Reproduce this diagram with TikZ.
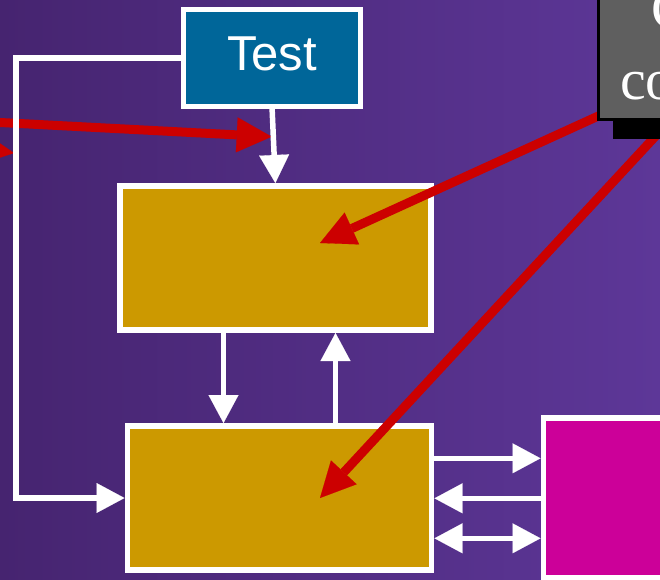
\documentclass[tikz,border=0pt]{standalone}
\usepackage{fontspec}
\setmainfont{Liberation Serif}
\newfontfamily\boxsans{Liberation Sans}
\usetikzlibrary{arrows.meta}
\definecolor{bgleft}{RGB}{70,36,112}
\definecolor{bgright}{RGB}{93,55,152}
\definecolor{gold}{RGB}{204,153,0}
\definecolor{testblue}{RGB}{0,102,153}
\definecolor{magentabox}{RGB}{204,0,153}
\definecolor{arrowred}{RGB}{204,0,0}
\definecolor{graybox}{RGB}{95,95,95}
\begin{document}
\begin{tikzpicture}[x=1pt,y=-1pt,
  whitebox/.style={draw=white,line width=5.5pt,inner sep=0pt,outer sep=0pt},
  flow/.style={draw=white,line width=5.5pt,
    -{Triangle[length=28pt,width=30pt,line width=0.1pt]},shorten >=3pt},
  flowboth/.style={draw=white,line width=5.5pt,
    {Triangle[length=28pt,width=30pt,line width=0.1pt]}-{Triangle[length=28pt,width=30pt,line width=0.1pt]},
    shorten >=3pt,shorten <=3pt},
  hint/.style={draw=arrowred,line width=9pt,
    -{Triangle[length=35pt,width=35pt,line width=0.1pt]}},
  notebox/.style={fill=graybox,draw=black,line width=2.5pt,inner sep=0pt,outer sep=0pt,
    minimum width=201.5pt,minimum height=199.5pt}]

% frame and background
\useasboundingbox (0,0) rectangle (660,579);
\clip (0,0) rectangle (660,579);
\shade[left color=bgleft,right color=bgright] (0,0) rectangle (660,579);

% red pointers entering from the left
\coordinate (la) at (-100,117.25);
\coordinate (lat) at (271.7,136.7);
\coordinate (lb) at (-200,123);
\coordinate (lbt) at (14,153);
\draw[hint] (la) -- (lat);
\draw[hint] (lb) -- (lbt);

% boxes
\node[whitebox,fill=gold,minimum width=311pt,minimum height=144pt] (upper) at (275.5,258) {};
\node[whitebox,fill=gold,minimum width=304pt,minimum height=144pt] (lower) at (279.5,498) {};
\node[whitebox,fill=testblue,minimum width=177pt,minimum height=97pt,
  text=white,font=\boxsans\fontsize{49}{58}\selectfont,text depth=8pt] (test) at (272,58) {Test};
\node[whitebox,fill=magentabox,minimum width=257pt,minimum height=160pt] (mag) at (672,498) {};

% white connectors
\coordinate (lc) at (16,58);
\draw[flow] (test.west) -- (lc) |- (lower.west);
\draw[flow] (test.south) -- (upper.north);
\coordinate (dn) at (223.5,0);
\coordinate (up) at (335.5,0);
\draw[flow] (upper.south -| dn) -- (lower.north -| dn);
\draw[flow] (lower.north -| up) -- (upper.south -| up);
\coordinate (r1) at (0,458.3);
\coordinate (r2) at (0,498.3);
\coordinate (r3) at (0,538.3);
\draw[flow] (lower.east |- r1) -- (mag.west |- r1);
\draw[flow] (mag.west |- r2) -- (lower.east |- r2);
\draw[flowboth] (lower.east |- r3) -- (mag.west |- r3);

% red pointers from the note box
\coordinate (na) at (640,97);
\coordinate (nat) at (320,243);
\coordinate (nb) at (689,100);
\coordinate (nbt) at (320,498);
\draw[hint] (na) -- (nat);
\draw[hint] (nb) -- (nbt);

% note box with its shadow
\node[notebox,fill=black] (shadow) at (715,37.9) {};
\node[notebox] (note) at (699.25,19.9) {};
\node[anchor=base west,text=white,inner sep=0pt,font=\fontsize{58}{70}\selectfont] (nl1) at (651.5,28) {C};
\node[anchor=base west,text=white,inner sep=0pt,font=\fontsize{58}{70}\selectfont] (nl2) at (620,99) {co};
\end{tikzpicture}
\end{document}
